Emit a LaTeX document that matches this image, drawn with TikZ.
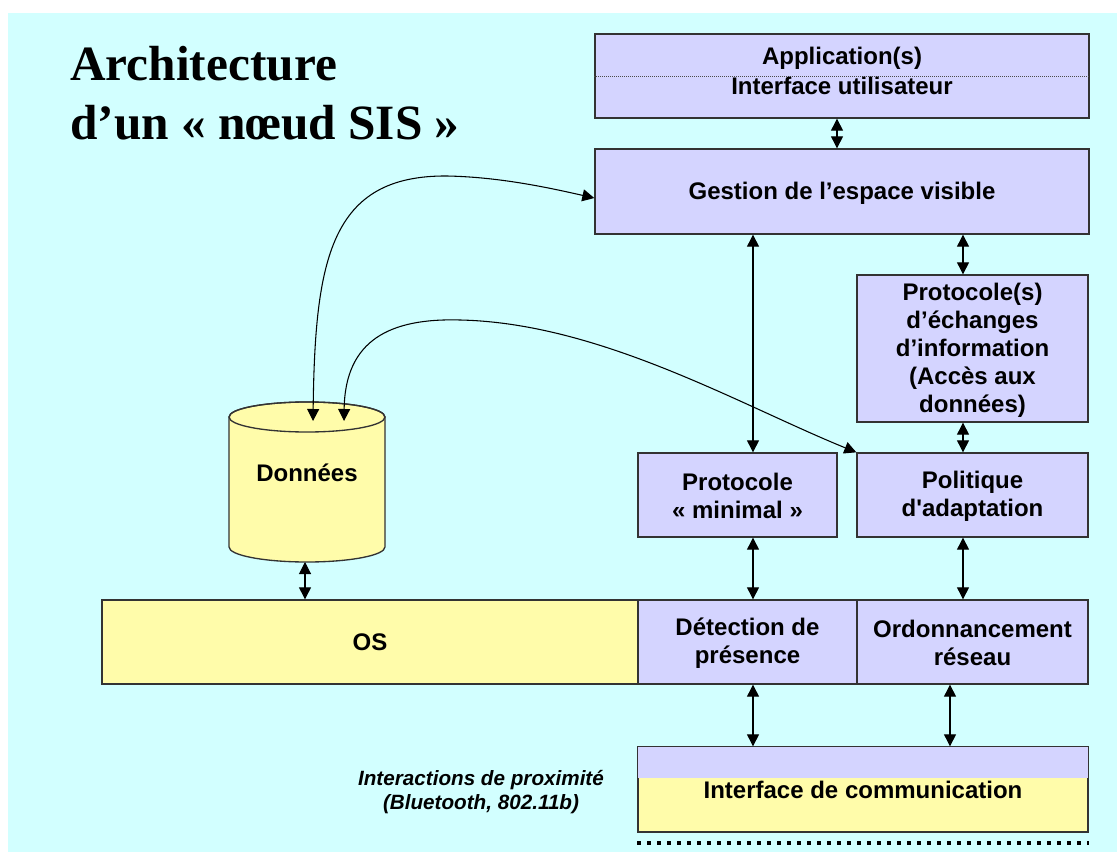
\documentclass[tikz,border=0pt]{standalone}
\usepackage{fontspec}
\setmainfont{Liberation Sans}
\newfontfamily\serifbold{Liberation Serif}
\usetikzlibrary{fit,arrows.meta}
\definecolor{bgcyan}{RGB}{210,255,255}
\definecolor{lav}{RGB}{212,212,255}
\definecolor{yel}{RGB}{255,252,170}
\begin{document}
\begin{tikzpicture}[x=0.75pt,y=-0.75pt,
  label font/.style={font=\bfseries\fontsize{18}{21}\selectfont},
  title font/.style={font=\serifbold\bfseries\fontsize{37}{44}\selectfont},
  box/.style={draw=black!80, line width=1pt, fill=lav, inner sep=0pt},
  ybox/.style={box, fill=yel},
  txt/.style={align=center, inner sep=0pt, label font},
  link/.style={line width=0.8pt, {Triangle[length=9pt,width=9pt]}-{Triangle[length=9pt,width=9pt]}},
]
% page and background
\fill[white] (0,0) rectangle (1117,852);
\fill[bgcyan] (8,13) rectangle (1117,852);
\useasboundingbox (0,0) rectangle (1117,852);

% title
\node[anchor=base west, inner sep=0pt, title font] (t1) at (70,81) {Architecture};
\node[anchor=base west, inner sep=0pt, title font] (t2) at (70,140) {d’un «~nœud SIS~»};

% layers
\node[box, fit={(595,34)(1089,118)}] (app) {};
\coordinate (appline) at (842,76);
\draw[black!70, densely dotted, line width=0.5pt] (app.west |- appline) -- (app.east |- appline);
\node[txt, font=\bfseries\fontsize{18}{22.5}\selectfont] (apptext) at (842,71) {Application(s)\\Interface utilisateur};

\node[box, fit={(595,149)(1089,234)}] (gestion) {};
\node[txt] (gestiontext) at ([yshift=-1.5pt]gestion.center) {Gestion de l’espace visible};
\node[box, fit={(857,275)(1088,422)}] (proto) {};
\node[txt] (prototext) at ([yshift=-1pt]proto.center) {Protocole(s)\\d’échanges\\d’information\\(Accès aux\\données)};
\node[box, fit={(638,453)(837,537)}] (pmin) {};
\node[txt] (pmintext) at ([yshift=-1pt]pmin.center) {Protocole\\«~minimal~»};
\node[box, fit={(857,453)(1088,537)}] (polit) {};
\node[txt] (polittext) at ([yshift=-1pt]polit.center) {Politique\\d\textquotesingle adaptation};
\node[ybox, fit={(102,600)(638,684)}] (os) {};
\node[txt] (ostext) at (os.center) {OS};
\node[box, fit={(638,600)(857,684)}] (detect) {};
\node[txt] (detecttext) at ([yshift=-1pt]detect.center) {Détection de\\présence};
\node[box, fit={(857,600)(1088,684)}] (ordo) {};
\node[txt] (ordotext) at ([yshift=-1pt]ordo.center) {Ordonnancement\\réseau};

% communication interface: blue band over yellow
\node[ybox, fit={(638,747)(1088,832)}] (comm) {};
\coordinate (band) at (863,778);
\fill[lav] (comm.north west) rectangle (comm.east |- band);
\draw[black!80, line width=1pt] (comm.north west) rectangle (comm.south east);
\node[txt] (commtext) at (863,790) {Interface de communication};
\draw[line width=3pt, dash pattern=on 3pt off 4.5pt] ([yshift=-7.5pt]comm.south west) -- ([yshift=-7.5pt]comm.south east);

\node[font=\bfseries\itshape\fontsize{15.5}{18.5}\selectfont, align=center, inner sep=0pt] (prox) at (481,792) {Interactions de proximité\\(Bluetooth, 802.11b)};

% data store (cylinder)
\filldraw[fill=yel, draw=black!80, line width=1pt] (229,417) -- (229,547)
  arc[start angle=180, end angle=360, x radius=58.5pt, y radius=11.25pt] -- (385,417)
  arc[start angle=0, end angle=180, x radius=58.5pt, y radius=11.25pt] -- cycle;
\draw[black!80, line width=1pt] (307,417) ellipse [x radius=58.5pt, y radius=11.25pt];
\node[txt] (data) at (307,473) {Données};
\coordinate (dA) at (313,421);
\coordinate (dB) at (344,421);
\coordinate (dC) at (305,562);

% vertical links
\coordinate (xa) at (837,0);
\coordinate (xb) at (963,0);
\coordinate (xc) at (753,0);
\coordinate (xd) at (950,0);
\draw[link] (app.south -| xa) -- (gestion.north -| xa);
\draw[link] (gestion.south -| xb) -- (proto.north -| xb);
\draw[link] (proto.south -| xb) -- (polit.north -| xb);
\draw[link] (gestion.south -| xc) -- (pmin.north -| xc);
\draw[link] (pmin.south -| xc) -- (detect.north -| xc);
\draw[link] (polit.south -| xb) -- (ordo.north -| xb);
\draw[link] (detect.south -| xc) -- (comm.north -| xc);
\draw[link] (ordo.south -| xd) -- (comm.north -| xd);
\draw[link] (dC) -- (os.north -| dC);

% curved links from the data store
\draw[link] (dA) .. controls (315,260) and (330,175) .. (447,176)
  .. controls (500,177) and (550,188) .. ([yshift=-4.9pt]gestion.west);
\draw[link] (dB) .. controls (345,340) and (390,318) .. (460,320)
  .. controls (600,323) and (740,405) .. (polit.north west);
\end{tikzpicture}
\end{document}
